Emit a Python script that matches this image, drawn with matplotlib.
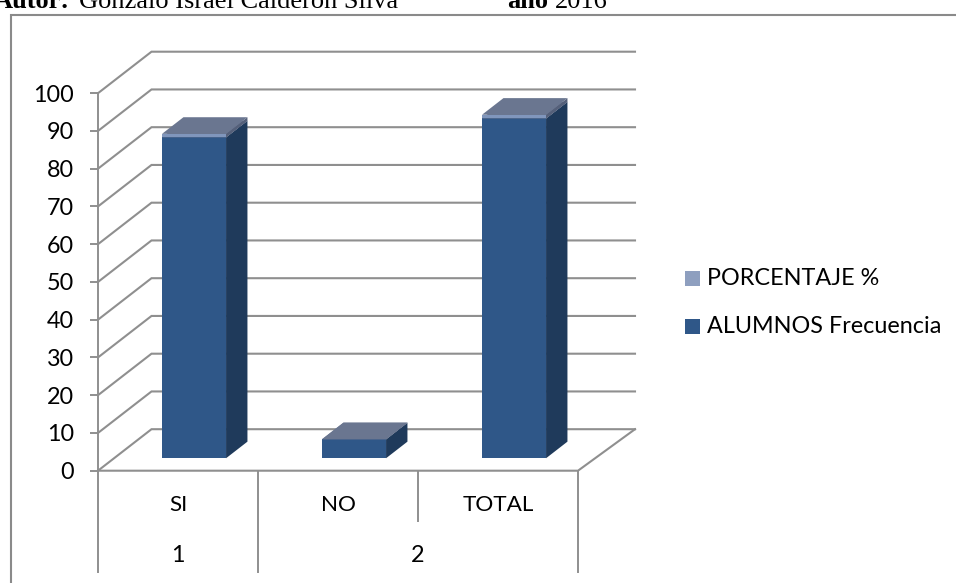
import matplotlib
matplotlib.use('Agg')
import matplotlib.pyplot as plt
from matplotlib.lines import Line2D
from matplotlib.patches import Polygon, Rectangle

categorias = ['SI', 'NO', 'TOTAL']
grupos = ['1', '2']
frecuencia = [85, 5, 90]
porcentaje = [0.94, 0.06, 1.0]
ticks_y = [0, 10, 20, 30, 40, 50, 60, 70, 80, 90, 100]

AZUL = '#2F5788'
AZUL_LADO = '#1F3A5B'
AZUL_TOPE = '#6A7690'
CLARO = '#8096BC'
CLARO_LADO = '#55607A'
CLARO_LEYENDA = '#8E9FBF'
GRIS = '#8F8F8F'

# escala: pixeles por unidad en cada eje y desplazamiento de la profundidad
W, H = 956, 583
X0, Y0 = 98, 470.7
PX_CAT = 160.0
PX_VAL = 3.775
DX = 53.5 / PX_CAT
DZ = 41.5 / PX_VAL
EXTRA = 3.5 / PX_CAT
ANCHO = 0.4

plt.rcParams['font.family'] = ['Lato', 'DejaVu Sans']

fig = plt.figure(figsize=(W / 100, H / 100), dpi=100)
ax = fig.add_axes([0, 0, 1, 1])
ax.set_xlim(-X0 / PX_CAT, (W - X0) / PX_CAT)
ax.set_ylim((Y0 - H) / PX_VAL, Y0 / PX_VAL)
ax.patch.set_visible(False)

for s in ['top', 'right', 'bottom']:
    ax.spines[s].set_visible(False)
ax.spines['left'].set_position(('data', 0))
ax.spines['left'].set_bounds(0, 100)
ax.spines['left'].set_color(GRIS)
ax.spines['left'].set_linewidth(1.4)
ax.set_xticks([])
ax.set_yticks(ticks_y)
ax.tick_params(axis='y', length=5.8, width=1.4, color=GRIS, pad=11.5, labelsize=16.8)

# marco exterior: solo quedan el lado izquierdo y el superior
fig.add_artist(Line2D([10.5 / W, 10.5 / W, 1], [0, 1 - 14.7 / H, 1 - 14.7 / H], color='#8A8A8A', lw=1.5,
                      solid_joinstyle='miter'))

# pared del fondo y piso
n = len(categorias)
for v in ticks_y:
    ax.plot([0, DX, n + DX + EXTRA], [v, v + DZ, v + DZ], color=GRIS, lw=1.5, zorder=1, solid_joinstyle='miter')
ax.plot([0, n, n + DX + EXTRA], [0, 0, DZ], color=GRIS, lw=1.5, zorder=1)


def caja(x, base, alto, frente, lado, tope, z):
    """Dibuja una barra 3D: frente, lado derecho y tapa."""
    x0 = x - ANCHO / 2 + 0.3 * DX
    x1 = x0 + ANCHO
    b = base + 0.3 * DZ
    t = b + alto
    px, pz = 0.4 * DX, 0.4 * DZ
    ax.add_patch(Rectangle((x0, b), ANCHO, alto, fc=frente, ec='none', zorder=z))
    ax.add_patch(Polygon([(x1, b), (x1 + px, b + pz), (x1 + px, t + pz), (x1, t)], fc=lado, ec='none', zorder=z))
    ax.add_patch(Polygon([(x0, t), (x0 + px, t + pz), (x1 + px, t + pz), (x1, t)], fc=tope, ec='none', zorder=z + 0.1))


for i in range(n):
    c = i + 0.5
    caja(c, 0, frecuencia[i], AZUL, AZUL_LADO, AZUL_TOPE, 3)
    caja(c, frecuencia[i], porcentaje[i], CLARO, CLARO_LADO, AZUL_TOPE, 3.5)

# separadores y rotulos de los dos niveles de categorias
for x in range(n + 1):
    fila2 = x in (0, 1, 3)
    fondo = Y0 - (572 if fila2 else 521)
    ax.plot([x, x], [0, fondo / PX_VAL], color=GRIS, lw=1.4, zorder=1)

y_fila1 = (Y0 - 505) / PX_VAL
y_fila2 = (Y0 - 556) / PX_VAL
for i, c in enumerate(categorias):
    ax.text(i + 0.5, y_fila1, c, ha='center', va='center', fontsize=16.2)
ax.text(0.5, y_fila2, grupos[0], ha='center', va='center', fontsize=16.8)
ax.text(2.0, y_fila2, grupos[1], ha='center', va='center', fontsize=16.8)

# leyenda
leyenda = [('PORCENTAJE %', CLARO_LEYENDA, 278.5), ('ALUMNOS Frecuencia', AZUL, 326.5)]
for txt, col, py in leyenda:
    fig.patches.append(Rectangle((685 / W, 1 - (py + 7.5) / H), 15 / W, 15 / H, transform=fig.transFigure,
                                 fc=col, ec='none'))
    fig.text(707 / W, 1 - py / H, txt, ha='left', va='center', fontsize=16.8)

# linea de pie cortada por el borde superior
ser = ['Liberation Serif', 'DejaVu Serif']
BASE = 1 - 8 / H
fig.text(-6 / W, BASE, 'Autor:', family=ser, weight='bold', fontsize=19, va='baseline')
fig.text(79 / W, BASE, 'Gonzalo Israel Calderón Silva', family=ser, fontsize=19, va='baseline')
fig.text(507 / W, BASE, 'año', family=ser, weight='bold', fontsize=19, va='baseline')
fig.text(555 / W, BASE, '2016', family=ser, fontsize=19, va='baseline')

fig.savefig('out.png', dpi=100)
plt.close(fig)
